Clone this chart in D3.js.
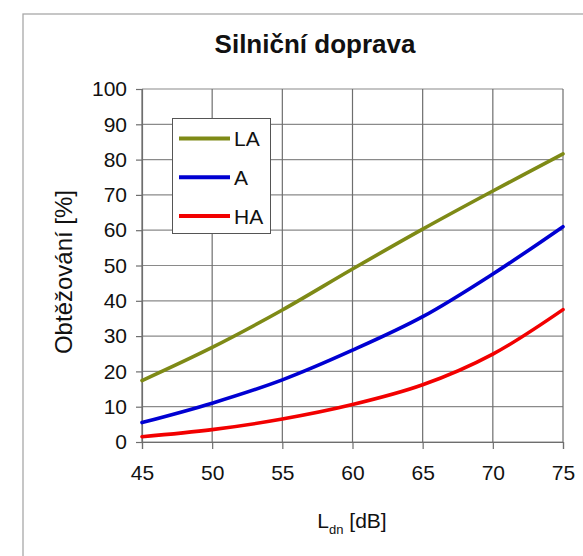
<!DOCTYPE html>
<html>
<head>
<meta charset="utf-8">
<script src="https://cdn.jsdelivr.net/npm/d3@7"></script>
<style>
  html, body { margin: 0; padding: 0; background: #fff; }
  svg { display: block; font-family: "Liberation Sans", Arial, sans-serif; }
</style>
</head>
<body>
<svg id="chart" width="583" height="556"></svg>
<script>
// Road traffic annoyance vs. Ldn
const levels = [45, 50, 55, 60, 65, 70, 75];
const seriesNames = ["LA", "A", "HA"];
const valuesLA = [17.4, 26.8, 37.4, 49.0, 60.3, 71.1, 81.6];
const valuesA  = [5.5, 11.0, 17.6, 26.0, 35.5, 47.6, 61.0];
const valuesHA = [1.5, 3.5, 6.5, 10.6, 16.2, 24.9, 37.5];
const xTicks = [45, 50, 55, 60, 65, 70, 75];
const yTicks = [0, 10, 20, 30, 40, 50, 60, 70, 80, 90, 100];
const colors = ["#7e8a16", "#0000d2", "#f20000"];

const series = [valuesLA, valuesA, valuesHA].map((vals, i) => ({
  name: seriesNames[i],
  color: colors[i],
  points: levels.map((l, j) => [l, vals[j]])
}));

const svg = d3.select("#chart");

// outer chart frame
svg.append("rect")
  .attr("x", 23).attr("y", 14)
  .attr("width", 620).attr("height", 620)
  .attr("fill", "#fff")
  .attr("stroke", "#a8a8a8")
  .attr("stroke-width", 1.3);

const plot = { left: 142, right: 563, top: 89, bottom: 442 };

const x = d3.scaleLinear().domain([45, 75]).range([plot.left, plot.right]);
const y = d3.scaleLinear().domain([0, 100]).range([plot.bottom, plot.top]);

// grid
const grid = svg.append("g");
grid.selectAll("line.h").data(yTicks).join("line")
  .attr("x1", plot.left).attr("x2", plot.right)
  .attr("y1", d => y(d)).attr("y2", d => y(d))
  .attr("stroke", "#8a8a8a").attr("stroke-width", 1.2);
grid.selectAll("line.v").data(xTicks).join("line")
  .attr("y1", plot.top).attr("y2", plot.bottom)
  .attr("x1", d => x(d)).attr("x2", d => x(d))
  .attr("stroke", "#6e6e6e").attr("stroke-width", 1.2);

// axes
const yAxis = d3.axisLeft(y).tickValues(yTicks).tickSize(6).tickPadding(9);
const xAxis = d3.axisBottom(x).tickValues(xTicks).tickSize(7).tickPadding(16);

const gy = svg.append("g").attr("transform", `translate(${plot.left},0)`).call(yAxis);
const gx = svg.append("g").attr("transform", `translate(0,${plot.bottom})`).call(xAxis);

[gx, gy].forEach(g => {
  g.select(".domain").attr("stroke", "#6e6e6e").attr("stroke-width", 1.2);
  g.selectAll(".tick line").attr("stroke", "#6e6e6e").attr("stroke-width", 1.2);
  g.selectAll(".tick text")
    .attr("fill", "#111")
    .style("font-size", "21px")
    .style("font-family", "'Liberation Sans', Arial, sans-serif");
});

// curves
const line = d3.line()
  .x(d => x(d[0]))
  .y(d => y(d[1]))
  .curve(d3.curveCatmullRom.alpha(0.5));

svg.append("g").selectAll("path").data(series).join("path")
  .attr("d", d => line(d.points))
  .attr("fill", "none")
  .attr("stroke", d => d.color)
  .attr("stroke-width", 3.6)
  .attr("stroke-linecap", "round")
  .attr("stroke-linejoin", "round");

// legend
const legend = svg.append("g");
legend.append("rect")
  .attr("x", 172.5).attr("y", 118.5)
  .attr("width", 98).attr("height", 115)
  .attr("fill", "#fff")
  .attr("stroke", "#555").attr("stroke-width", 1);

const legendY = d3.scalePoint().domain(seriesNames).range([138.5, 216]);
const items = legend.selectAll("g.item").data(series).join("g")
  .attr("transform", d => `translate(0,${legendY(d.name)})`);
items.append("line")
  .attr("x1", 179).attr("x2", 230)
  .attr("y1", 0).attr("y2", 0)
  .attr("stroke", d => d.color)
  .attr("stroke-width", 4);
items.append("text")
  .attr("x", 234).attr("y", 7.5)
  .attr("fill", "#111")
  .style("font-size", "21px")
  .text(d => d.name);

// title
svg.append("text")
  .attr("x", 315).attr("y", 53)
  .attr("text-anchor", "middle")
  .attr("fill", "#111")
  .style("font-size", "26px")
  .style("font-weight", "bold")
  .text("Silniční doprava");

// y axis title
svg.append("text")
  .attr("transform", "translate(72,272) rotate(-90)")
  .attr("text-anchor", "middle")
  .attr("fill", "#111")
  .style("font-size", "24px")
  .text("Obtěžování [%]");

// x axis title with subscript
const xt = svg.append("text")
  .attr("x", 352).attr("y", 528)
  .attr("text-anchor", "middle")
  .attr("fill", "#111")
  .style("font-size", "21px");
xt.append("tspan").text("L");
xt.append("tspan").attr("dy", 6).style("font-size", "13px").text("dn");
xt.append("tspan").attr("dy", -6).text(" [dB]");
</script>
</body>
</html>
